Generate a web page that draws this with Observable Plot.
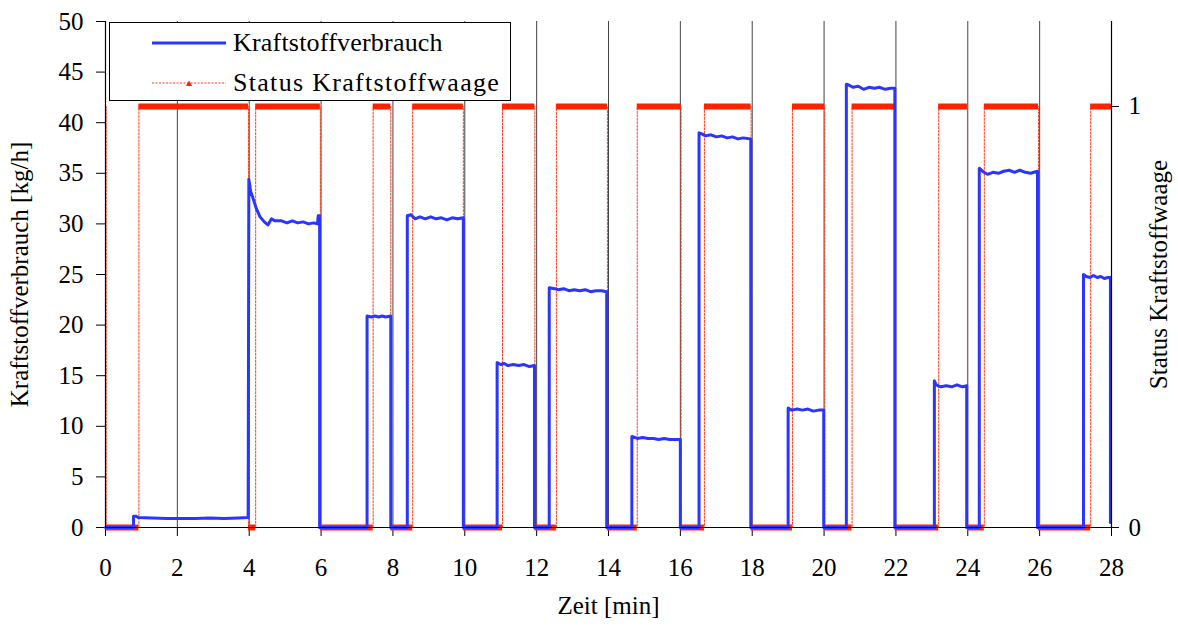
<!DOCTYPE html>
<html><head><meta charset="utf-8">
<script src="https://cdn.jsdelivr.net/npm/d3@7"></script>
<script src="https://cdn.jsdelivr.net/npm/@observablehq/plot@0.6"></script>
<style>
body{margin:0;background:#fff;}
#wrap{position:relative;width:1178px;height:628px;font-family:'Liberation Serif','DejaVu Serif',serif;}
#legend{position:absolute;left:109px;top:22px;width:402px;height:79px;border:1.5px solid #000;background:#fff;box-sizing:border-box;}
#legend .row{position:absolute;left:0;height:34px;display:flex;align-items:center;font-size:26px;color:#000;white-space:nowrap;}
#legend svg{margin-left:42px;margin-right:7px;}
</style></head>
<body>
<div id="wrap"><div id="chart"></div>
<div id="legend">
  <div class="row" style="top:3px"><svg width="74" height="10"><line x1="0" x2="74" y1="5" y2="5" stroke="#2b35ff" stroke-width="3"/></svg><span style="letter-spacing:0.2px">Kraftstoffverbrauch</span></div>
  <div class="row" style="top:43px"><svg width="74" height="10"><line x1="0" x2="74" y1="5" y2="5" stroke="#ff3b1f" stroke-width="1" stroke-dasharray="2,1.5"/><path d="M34,8 L37,2.5 L40,8 Z" fill="#ff2200"/></svg><span style="letter-spacing:1.3px">Status Kraftstoffwaage</span></div>
</div></div>
<script>
// Kraftstoffverbrauch [kg/h] over Zeit [min]
const fuelTime = [0,0.78,0.78,0.86,0.9,1.3,1.7,2.1,2.5,2.9,3.3,3.7,3.97,
  3.99,4.04,4.1,4.2,4.3,4.42,4.52,4.62,4.72,4.9,5.05,5.2,5.35,5.5,5.65,5.8,5.9,5.92,5.96,5.96,
  7.28,7.28,7.4,7.5,7.6,7.7,7.8,7.94,7.94,
  8.4,8.4,8.5,8.62,8.75,8.9,9.05,9.2,9.35,9.5,9.65,9.8,9.96,9.96,
  10.9,10.9,11.0,11.1,11.2,11.35,11.5,11.65,11.8,11.94,11.94,
  12.35,12.35,12.5,12.6,12.75,12.9,13.05,13.2,13.35,13.5,13.65,13.8,13.95,13.95,
  14.65,14.65,14.8,14.95,15.1,15.25,15.4,15.55,15.7,15.85,16.0,16.0,
  16.52,16.52,16.6,16.7,16.85,17.0,17.15,17.3,17.45,17.6,17.75,17.96,17.96,
  19.0,19.0,19.1,19.25,19.4,19.55,19.7,19.85,19.99,19.99,
  20.62,20.62,20.7,20.8,20.95,21.1,21.25,21.4,21.55,21.7,21.85,21.97,21.97,
  23.07,23.07,23.12,23.25,23.4,23.55,23.7,23.85,23.97,23.97,
  24.32,24.32,24.45,24.55,24.7,24.85,25.0,25.15,25.3,25.45,25.6,25.75,25.94,25.94,
  27.22,27.22,27.3,27.4,27.5,27.6,27.7,27.8,27.9,27.97,27.97];
const fuelValue = [0,0,1.1,1.1,1.0,0.95,0.9,0.9,0.9,0.95,0.9,0.95,1.0,
  34.4,33.2,32.6,31.5,30.7,30.2,29.9,30.5,30.3,30.3,30.1,30.3,30.1,30.2,30.0,30.1,30.0,30.8,30.8,0,
  0,20.9,20.8,20.9,20.8,20.9,20.8,20.9,0,
  0,30.8,30.9,30.5,30.7,30.5,30.7,30.5,30.6,30.4,30.6,30.5,30.6,0,
  0,16.3,16.1,16.2,16.0,16.1,16.0,16.1,15.9,16.0,0,
  0,23.7,23.6,23.5,23.6,23.4,23.5,23.4,23.5,23.3,23.4,23.4,23.3,0,
  0,9.0,8.8,8.9,8.8,8.8,8.7,8.8,8.7,8.7,8.7,0,
  0,39.0,38.9,38.7,38.8,38.6,38.7,38.5,38.6,38.4,38.5,38.4,0,
  0,11.8,11.6,11.7,11.6,11.7,11.5,11.6,11.6,0,
  0,43.8,43.7,43.5,43.6,43.3,43.5,43.4,43.5,43.3,43.4,43.4,0,
  0,14.5,14.1,13.9,14.0,13.9,14.1,13.9,14.0,0,
  0,35.5,35.1,34.9,35.1,35.0,35.2,35.3,35.1,35.3,35.1,35.0,35.2,0,
  0,25.0,24.8,24.7,24.9,24.7,24.8,24.6,24.7,24.7,0.5];
// Status Kraftstoffwaage (0/1), value holds from each time until the next
const statusTime = [0,0.02,0.93,3.98,4.18,5.98,7.45,7.94,8.55,9.96,11.05,11.95,12.55,13.97,14.8,16.02,16.67,17.97,19.12,20.02,20.78,21.98,23.19,23.99,24.46,25.97,27.42,28];
const statusValue = [1,0,1,0,1,0,1,0,1,0,1,0,1,0,1,0,1,0,1,0,1,0,1,0,1,0,1,1];
const xTicks = d3.range(0, 29, 2);
const yTicks = d3.range(0, 51, 5);
const statusTicks = [0, 1];

const statusMax = 1.2019; // right axis value at the top of the frame
const K = 50 / statusMax; // status 1 in left-axis units

const fuel = fuelTime.map((t, i) => ({t, v: fuelValue[i]}));
const status = statusTime.map((t, i) => ({t, s: statusValue[i] * K}));
const segs = statusTime.slice(0, -1).map((t, i) => ({x1: t, x2: statusTime[i + 1], y: statusValue[i] * K}));

const red = "#ff2200";
const chart = Plot.plot({
  width: 1178, height: 628,
  marginLeft: 105, marginRight: 67, marginTop: 21, marginBottom: 101,
  style: {fontFamily: "'Liberation Serif','DejaVu Serif',serif", fontSize: "25px", color: "#000", background: "#fff"},
  x: {domain: [0, 28]},
  y: {domain: [0, 50]},
  marks: [
    Plot.ruleX(xTicks.filter(d => d > 0 && d < 28), {stroke: "#444", strokeWidth: 1}),
    Plot.axisX(xTicks, {tickSize: 9, tickPadding: 22, fontSize: 25, label: "Zeit [min]", labelAnchor: "center", labelOffset: 86, labelArrow: "none"}),
    Plot.axisY(yTicks, {anchor: "left", tickSize: 9, tickPadding: 13, fontSize: 25, label: "Kraftstoffverbrauch [kg/h]", labelAnchor: "center", labelOffset: 95, labelArrow: "none"}),
    Plot.axisY(statusTicks.map(d => d * K), {anchor: "right", tickSize: 7, tickPadding: 10, fontSize: 25, tickFormat: d => String(Math.round(d / K)), label: "Status Kraftstoffwaage", labelAnchor: "center", labelOffset: 55, labelArrow: "none"}),
    Plot.line(status, {x: "t", y: "s", curve: "step-after", stroke: "#ff3b1f", strokeWidth: 1, strokeDasharray: "2,1.5"}),
    Plot.ruleY(segs, {x1: "x1", x2: "x2", y: "y", stroke: red, strokeWidth: 6}),
    Plot.line(fuel, {x: "t", y: "v", stroke: "#2b35ff", strokeWidth: 3}),
    Plot.ruleY([0], {stroke: "#000", strokeWidth: 1.2}),
    Plot.ruleX([0, 28], {stroke: "#000", strokeWidth: 1.2})
  ]
});
document.getElementById("chart").appendChild(chart);
</script>
</body></html>
